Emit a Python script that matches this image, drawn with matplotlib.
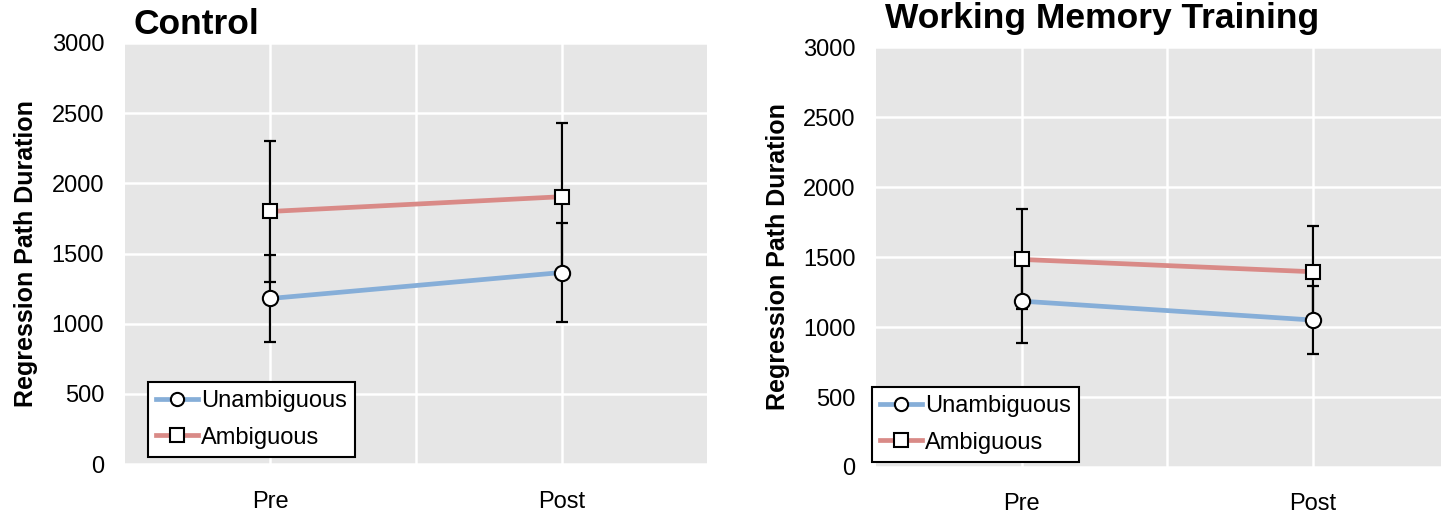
import numpy as np
from matplotlib import pyplot as plt
from matplotlib.lines import Line2D

plt.rcParams['font.family'] = ['Liberation Sans', 'DejaVu Sans']

phases = ['Pre', 'Post']
series_names = ['Unambiguous', 'Ambiguous']

# mean regression path duration and error bar half-widths
control_unamb = [1180, 1365]
control_unamb_err = [310, 355]
control_amb = [1800, 1905]
control_amb_err = [500, 525]

wm_unamb = [1185, 1050]
wm_unamb_err = [300, 245]
wm_amb = [1483, 1395]
wm_amb_err = [357, 324]

blue = '#86aed8'
red = '#d98a87'

fig = plt.figure(figsize=(14.41, 5.18), dpi=100)
ax1 = fig.add_axes([0.0867, 0.104, 0.404, 0.813])
ax2 = fig.add_axes([0.608, 0.0985, 0.404, 0.8105])


def draw_panel(ax, unamb, unamb_err, amb, amb_err, title, title_y,
               leg_anchor, ylabel_pad):
    x = np.arange(len(phases))
    ax.set_facecolor('#e6e6e6')
    for spine in ax.spines.values():
        spine.set_visible(False)

    ax.errorbar(x, unamb, yerr=unamb_err, fmt='none', ecolor='black',
                elinewidth=1.6, capsize=4, capthick=1.6, zorder=3)
    ax.errorbar(x, amb, yerr=amb_err, fmt='none', ecolor='black',
                elinewidth=1.6, capsize=4, capthick=1.6, zorder=3)
    ax.plot(x, unamb, color=blue, lw=3.4, zorder=4)
    ax.plot(x, amb, color=red, lw=3.4, zorder=4)
    ax.plot(x, unamb, 'o', ms=11, mfc='white', mec='black', mew=1.5, zorder=5)
    ax.plot(x, amb, 's', ms=10.5, mfc='white', mec='black', mew=1.5, zorder=5)

    ax.set_xlim(-0.5, 1.5)
    ax.set_ylim(0, 3000)
    ax.set_yticks(np.arange(0, 3001, 500))
    ax.set_xticks(x)
    ax.set_xticklabels(phases)
    ax.set_xticks([0.5], minor=True)
    ax.grid(True, which='both', color='white', lw=1.8)
    ax.set_axisbelow(True)
    ax.tick_params(axis='both', which='both', length=0, labelsize=17)
    ax.tick_params(axis='x', pad=19)
    ax.tick_params(axis='y', pad=15)
    ax.set_ylabel('Regression Path Duration', fontsize=18, fontweight='bold',
                  labelpad=ylabel_pad)
    ax.text(0.015, title_y, title, transform=ax.transAxes, fontsize=25.5,
            fontweight='bold', va='bottom', ha='left')

    handles = [
        Line2D([], [], color=blue, lw=3.4, marker='o', ms=9.5, mfc='white',
               mec='black', mew=1.5),
        Line2D([], [], color=red, lw=3.4, marker='s', ms=9.5, mfc='white',
               mec='black', mew=1.5),
    ]
    leg = ax.legend(handles, series_names, loc='lower left',
                    bbox_to_anchor=leg_anchor, bbox_transform=fig.transFigure,
                    fontsize=17, frameon=True, fancybox=False, framealpha=1,
                    handlelength=1.75, handletextpad=0.15, borderpad=0.35,
                    labelspacing=0.62, borderaxespad=0)
    leg.get_frame().set_edgecolor('black')
    leg.get_frame().set_linewidth(1.5)
    leg.get_frame().set_facecolor('white')
    leg.set_zorder(10)


draw_panel(ax1, control_unamb, control_unamb_err, control_amb, control_amb_err,
           'Control', 1.005, (148 / 1441, 1 - 457 / 518), 10)
draw_panel(ax2, wm_unamb, wm_unamb_err, wm_amb, wm_amb_err,
           'Working Memory Training', 1.03, (872 / 1441, 1 - 462 / 518), 9)

fig.savefig('out.png', dpi=100)
